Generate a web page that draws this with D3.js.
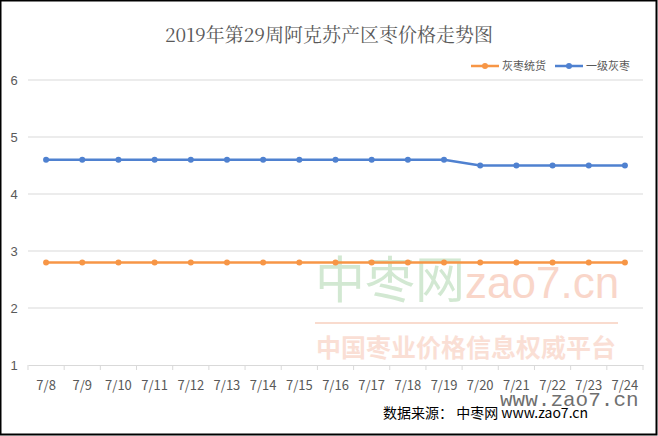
<!DOCTYPE html><html><head><meta charset="utf-8"><script src="https://cdn.jsdelivr.net/npm/d3@7"></script>
<style>body{margin:0;background:#fff}svg{display:block}</style></head><body><svg width="658" height="436"></svg>
<script>
const categories=["7/8","7/9","7/10","7/11","7/12","7/13","7/14","7/15","7/16","7/17","7/18","7/19","7/20","7/21","7/22","7/23","7/24"];
const seriesNames=["灰枣统货","一级灰枣"];
const tonghuo=[2.8,2.8,2.8,2.8,2.8,2.8,2.8,2.8,2.8,2.8,2.8,2.8,2.8,2.8,2.8,2.8,2.8];
const yiji=[4.6,4.6,4.6,4.6,4.6,4.6,4.6,4.6,4.6,4.6,4.6,4.6,4.5,4.5,4.5,4.5,4.5];
const yTicks=[1,2,3,4,5,6];
const colors=["#F79646","#4F81D0"];
const svg=d3.select("svg");const F="'Noto Sans CJK SC','Liberation Sans',sans-serif";
svg.append("rect").attr("x",0.5).attr("y",0.5).attr("width",656).attr("height",434).attr("fill","#fff").attr("stroke","#000").attr("stroke-width",2);
const x=d3.scaleBand().domain(categories).range([28,643]);
const y=d3.scaleLinear().domain([1,6]).range([365,80]);
svg.append("g").selectAll("line").data(yTicks.slice(1)).join("line").attr("x1",28).attr("x2",643).attr("y1",d=>y(d)).attr("y2",d=>y(d)).attr("stroke","#d9d9d9");
svg.append("text").attr("x",315).attr("y",298).attr("font-family",F).attr("font-size",50).attr("fill","#7fbf7f").attr("opacity",0.35).text("中枣网");
svg.append("text").attr("x",465).attr("y",298).attr("font-family","Liberation Sans").attr("font-size",44).attr("fill","#f2a58a").attr("opacity",0.45).text("zao7.cn");
svg.append("line").attr("x1",315).attr("x2",618).attr("y1",323).attr("y2",323).attr("stroke","#f4b89f").attr("opacity",0.5).attr("stroke-width",2);
svg.append("text").attr("x",316).attr("y",357).attr("font-family",F).attr("font-size",25).attr("font-weight","bold").attr("fill","#f2a58a").attr("opacity",0.35).attr("textLength",300).text("中国枣业价格信息权威平台");
const ax=svg.append("g").attr("transform","translate(0,365)").call(d3.axisBottom(x).tickSize(5).tickSizeOuter(0));
ax.select(".domain").attr("stroke","#d9d9d9");ax.selectAll(".tick line").attr("stroke","#d9d9d9").attr("transform",`translate(${-x.bandwidth()/2},0)`);
ax.append("line").attr("x1",643).attr("x2",643).attr("y1",0).attr("y2",5).attr("stroke","#d9d9d9");
ax.selectAll("text").attr("font-family",F).attr("font-size",13).attr("fill","#595959").attr("dy","1.3em");
svg.append("g").selectAll("text").data(yTicks).join("text").attr("x",14).attr("y",d=>y(d)+5).attr("text-anchor","middle").attr("font-family","Liberation Sans").attr("font-size",13).attr("fill","#595959").text(d=>d);
[tonghuo,yiji].forEach((s,i)=>{
 svg.append("path").datum(s).attr("fill","none").attr("stroke",colors[i]).attr("stroke-width",2.5).attr("d",d3.line().x((d,j)=>x(categories[j])+x.bandwidth()/2).y(d=>y(d)));
 svg.append("g").selectAll("circle").data(s).join("circle").attr("cx",(d,j)=>x(categories[j])+x.bandwidth()/2).attr("cy",d=>y(d)).attr("r",3).attr("fill",colors[i]);
});
svg.append("text").attr("x",329).attr("y",42).attr("text-anchor","middle").attr("font-family","'Noto Serif CJK SC','Noto Sans CJK SC',serif").attr("font-size",19).attr("fill","#595959").text("2019年第29周阿克苏产区枣价格走势图");
const lg=[[471,seriesNames[0]],[555,seriesNames[1]]];
lg.forEach(([lx,t],i)=>{svg.append("line").attr("x1",lx).attr("x2",lx+28).attr("y1",66).attr("y2",66).attr("stroke",colors[i]).attr("stroke-width",2.5);
svg.append("circle").attr("cx",lx+14).attr("cy",66).attr("r",3).attr("fill",colors[i]);
svg.append("text").attr("x",lx+31).attr("y",70).attr("font-family",F).attr("font-size",11).attr("fill","#595959").text(t);});
svg.append("text").attr("x",500).attr("y",406).attr("font-family","Liberation Mono").attr("font-size",21).attr("fill","#333").attr("opacity",0.7).text("www.zao7.cn");
svg.append("text").attr("x",383).attr("y",418).attr("font-family",F).attr("font-size",14).attr("fill","#000").text("数据来源：  中枣网 www.zao7.cn");
</script></body></html>
